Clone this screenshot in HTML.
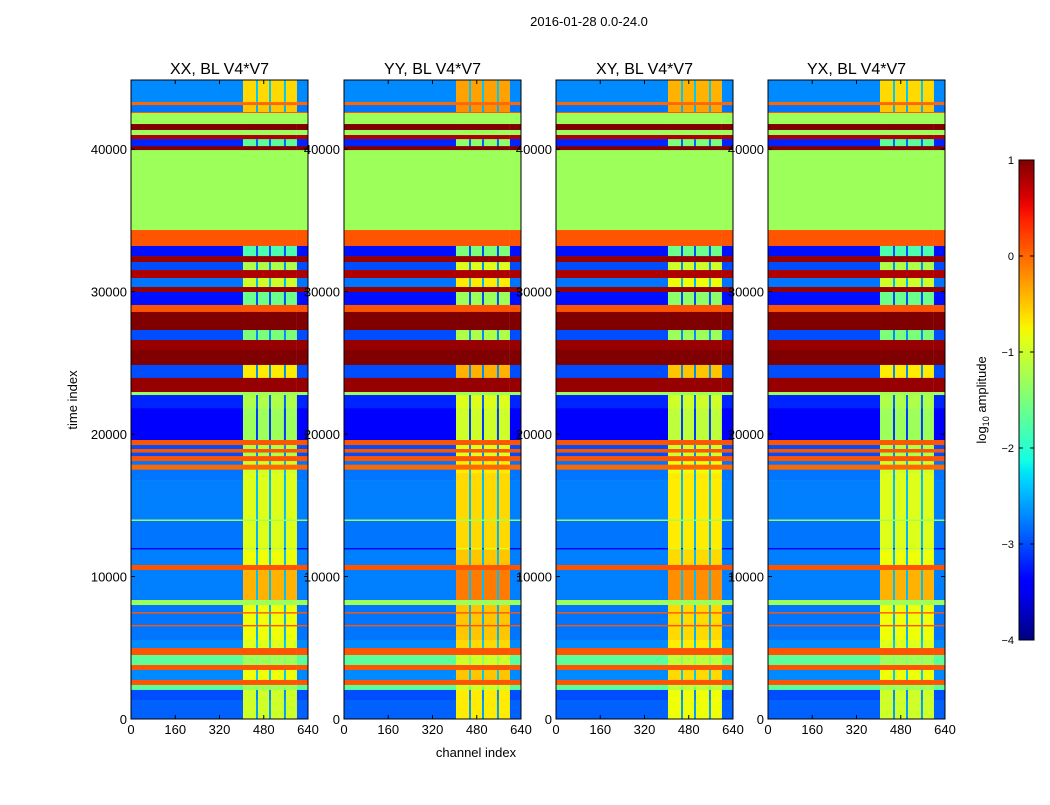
<!DOCTYPE html>
<html><head><meta charset="utf-8"><style>
body{margin:0;background:#fff;width:1050px;height:800px;overflow:hidden;font-family:"Liberation Sans",sans-serif}
</style></head><body>
<svg id="fig" width="1050" height="800" xmlns="http://www.w3.org/2000/svg" font-family="Liberation Sans, sans-serif">
<text x="589" y="26" font-size="13" text-anchor="middle">2016-01-28 0.0-24.0</text>
<text transform="translate(77,400) rotate(-90)" font-size="13" text-anchor="middle">time index</text>
<text x="476" y="757" font-size="13" text-anchor="middle">channel index</text>
<text transform="translate(986,400) rotate(-90)" font-size="13" text-anchor="middle">log<tspan font-size="9" dy="3">10</tspan><tspan dy="-3"> amplitude</tspan></text>
</svg>
<script>
const panelTitles=["XX, BL V4*V7","YY, BL V4*V7","XY, BL V4*V7","YX, BL V4*V7"];
const panelHighOffset=[0,0.3,0.2,0];
const xTicks=[0,160,320,480,640];
const yTicks=[0,10000,20000,30000,40000];
const cbTicks=[1,0,-1,-2,-3,-4];
const bandEdges=[44850,43300,43090,42600,42530,41760,41340,40990,40700,40210,39930,34320,33200,32490,32070,31510,30950,30320,29970,29060,28570,27300,26600,25900,24850,23940,22950,22740,21820,19580,19230,18950,18700,18450,18100,17850,17500,17250,16770,14000,13900,12000,11900,10810,10460,8350,8000,7500,7400,6600,6500,5540,4980,4490,3790,3440,2740,2390,2040,1330,0];
const lowVal=[-2.7,0,-2.8,0.1,-1.3,1,-1.3,0.8,-3.2,1,-1.3,0.1,-3.3,0.9,-3,0.8,-2.8,0.9,-3.3,0.1,1,-3,0.9,1,-3,0.9,-1.3,-3.2,-3.4,0.1,-3,0.1,-3,0.1,-2.8,0,-2.8,-2.8,-2.75,-1.3,-2.8,-3.5,-2.75,0.1,-2.75,-1.3,-2.8,0.1,-2.8,0.1,-2.8,-2.7,0.1,-1.7,0.1,-2.7,0.1,-1.7,-3,-2.9];
const highVal=[-0.6,0,-0.5,0.1,-1.3,1,-1.3,0.8,-1.7,1,-1.3,0.1,-1.8,0.9,-1.2,0.8,-1.0,0.9,-1.6,0.1,1,-1.5,0.9,1,-0.7,0.9,-1.3,-1.2,-1.3,0.1,-1.2,0.1,-1.2,0.1,-1.0,0,-1.0,-0.9,-0.9,-1.3,-0.9,-1.2,-0.8,0.1,-0.4,-1.3,-0.8,0.1,-0.8,0.1,-0.8,-0.9,0.1,-1.3,0.1,-0.8,0.1,-1.3,-1.0,-1.0];
const stripeChannels=[452,499,553];
const NS="http://www.w3.org/2000/svg";
const svg=document.getElementById('fig');
function interp(pts,t){for(let i=1;i<pts.length;i++){if(t<=pts[i][0]){const a=pts[i-1],b=pts[i];return a[1]+(b[1]-a[1])*(t-a[0])/(b[0]-a[0]);}}return pts[pts.length-1][1];}
const RS=[[0,0],[0.35,0],[0.66,1],[0.89,1],[1,0.5]],GS=[[0,0],[0.125,0],[0.375,1],[0.64,1],[0.91,0],[1,0]],BS=[[0,0.5],[0.11,1],[0.34,1],[0.65,0],[1,0]];
function jet(v){let t=(v+4)/5;t=Math.max(0,Math.min(1,t));const c=x=>Math.round(255*x);return `rgb(${c(interp(RS,t))},${c(interp(GS,t))},${c(interp(BS,t))})`;}
function mk(tag,attrs,parent){const e=document.createElementNS(NS,tag);for(const k in attrs)e.setAttribute(k,attrs[k]);(parent||svg).appendChild(e);return e;}
const panelX=[131,344,556,768],PW=177,PT=80,PB=719,TMAX=44850;
panelX.forEach((x0,p)=>{
  const g=mk('g',{});
  
  
  const sx=c=>x0+c/640*PW, sy=t=>PB-t/TMAX*(PB-PT);
  for(let i=0;i<lowVal.length;i++){
    const y1=sy(bandEdges[i]),y2=sy(bandEdges[i+1]);
    const lo=jet(lowVal[i]);
    const hv=highVal[i]===lowVal[i]?highVal[i]:Math.min(1,highVal[i]+panelHighOffset[p]);
    const r1=mk('rect',{x:sx(0),y:y1,width:sx(405)-sx(0),height:y2-y1+0.3,fill:lo},g);
    
    
    const r2=mk('rect',{x:sx(405),y:y1,width:sx(600)-sx(405),height:y2-y1+0.3,fill:jet(hv)},g);
    
    
    const r3=mk('rect',{x:sx(600),y:y1,width:sx(640)-sx(600),height:y2-y1+0.3,fill:lo},g);
    
    
    if(highVal[i]!==lowVal[i]){
      stripeChannels.forEach(ch=>{
        const s=mk('rect',{x:sx(ch),y:y1,width:2,height:y2-y1+0.3,fill:jet(lowVal[i]+0.3)},g);
        
        
      });
    }
  }
  const fr=mk('rect',{x:x0,y:PT,width:PW,height:PB-PT,fill:'none',stroke:'#000','stroke-width':1},g);
  
  
  const tt=mk('text',{x:x0+PW/2,y:74,'font-size':16,'text-anchor':'middle'},g);
  tt.textContent=panelTitles[p];
  
  
  xTicks.forEach(v=>{
    const X=sx(v);
    mk('line',{x1:X,x2:X,y1:PB,y2:PB-4,stroke:'#000'},g);
    mk('line',{x1:X,x2:X,y1:PT,y2:PT+4,stroke:'#000'},g);
    const t=mk('text',{x:X,y:PB+15,'font-size':13,'text-anchor':'middle'},g);
    t.textContent=v;
    
    
  });
  yTicks.forEach(v=>{
    const Y=sy(v);
    mk('line',{x1:x0,x2:x0+4,y1:Y,y2:Y,stroke:'#000'},g);
    mk('line',{x1:x0+PW,x2:x0+PW-4,y1:Y,y2:Y,stroke:'#000'},g);
    const t=mk('text',{x:x0-4,y:Y+5,'font-size':13,'text-anchor':'end'},g);
    t.textContent=v;
    
    
  });
});
const cb=mk('g',{});


const defs=mk('defs',{},cb);
const lg=mk('linearGradient',{id:'jetg',x1:0,y1:1,x2:0,y2:0},defs);
for(let i=0;i<=40;i++){mk('stop',{offset:i/40,'stop-color':jet(-4+5*i/40)},lg);}
mk('rect',{x:1019,y:160,width:15,height:480,fill:'url(#jetg)',stroke:'#000'},cb);
cbTicks.forEach(v=>{
  const Y=160+(1-v)/5*480;
  mk('line',{x1:1019,x2:1023,y1:Y,y2:Y,stroke:'#000'},cb);
  mk('line',{x1:1034,x2:1030,y1:Y,y2:Y,stroke:'#000'},cb);
  const t=mk('text',{x:1014,y:Y+4,'font-size':11,'text-anchor':'end'},cb);
  t.textContent=v<0?'\u2212'+(-v):v;
  
  
});
</script>
</body></html>
